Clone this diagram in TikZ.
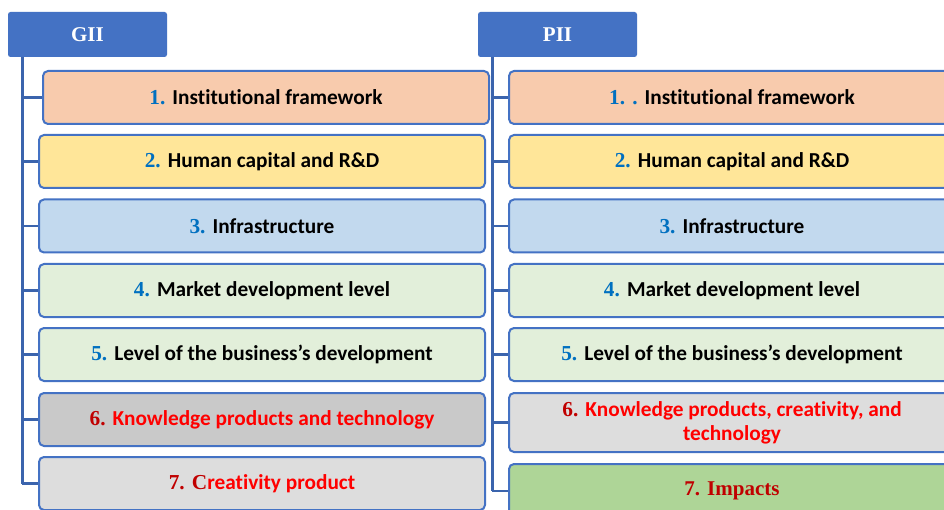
\documentclass[tikz,border=0pt]{standalone}
\usepackage{fontspec}
\setmainfont{Liberation Serif}
\newfontfamily\calfont[Ligatures={NoCommon}]{Carlito}
\usetikzlibrary{backgrounds}

\definecolor{hdrblue}{HTML}{4472C4}
\definecolor{edgeblue}{HTML}{4472C4}
\definecolor{trunkblue}{HTML}{3B64AD}
\definecolor{numblue}{HTML}{0070C0}
\definecolor{darkred}{HTML}{C00000}
\definecolor{brightred}{HTML}{FF0000}
\definecolor{peach}{HTML}{F8CBAD}
\definecolor{butter}{HTML}{FFE699}
\definecolor{skyblue}{HTML}{C2D9EE}
\definecolor{palegreen}{HTML}{E2EFDA}
\definecolor{midgray}{HTML}{C9C9C9}
\definecolor{lightgray}{HTML}{DDDDDD}
\definecolor{leafgreen}{HTML}{AED597}

% serif bold index number and sans bold label
\newcommand\idx[2][numblue]{{\rmfamily\bfseries\color{#1}#2}}
\newcommand\lbl[1]{{\calfont\bfseries #1}}

\tikzset{
  hdr/.style={fill=hdrblue, rounded corners=2.5pt, minimum width=159pt,
    minimum height=45pt, inner sep=0pt, text=white,
    font=\fontsize{21}{24}\selectfont\rmfamily\bfseries},
  item/.style={draw=edgeblue, line width=2pt, rounded corners=5pt,
    minimum width=446pt, minimum height=53pt, inner sep=0pt, align=center,
    font=\fontsize{21.3}{24}\selectfont},
  wire/.style={draw=trunkblue, line width=2.6pt},
}

\begin{document}
\begin{tikzpicture}[x=1pt,y=-1pt]
\useasboundingbox (0,0) rectangle (944,510);
\clip (0,0) rectangle (944,510);

% column headers
\node[hdr] (GII) at (87.5,34.5) {GII};
\node[hdr] (PII) at (557.5,34.5) {PII};

% GII pillars
\node[item, fill=peach]     (L1) at (266,97.5)  {\idx{1.} \lbl{Institutional framework}};
\node[item, fill=butter]    (L2) at (262,161.5) {\idx{2.} \lbl{Human capital and R\&D}};
\node[item, fill=skyblue]   (L3) at (262,226)   {\idx{3.} \lbl{Infrastructure}};
\node[item, fill=palegreen] (L4) at (262,290.5) {\idx{4.} \lbl{Market development level}};
\node[item, fill=palegreen] (L5) at (262,354.5) {\idx{5.} \lbl{Level of the business’s development}};
\node[item, fill=midgray]   (L6) at (262,419.5) {\idx[darkred]{6.} {\color{brightred}\lbl{Knowledge products and technology}}};
\node[item, fill=lightgray] (L7) at (262,483.5) {\idx[darkred]{7. C}{\color{brightred}\lbl{reativity product}}};

% PII pillars
\node[item, fill=peach]     (R1) at (732,97.5)  {\idx{1. .} \lbl{Institutional framework}};
\node[item, fill=butter]    (R2) at (732,161.5) {\idx{2.} \lbl{Human capital and R\&D}};
\node[item, fill=skyblue]   (R3) at (732,226)   {\idx{3.} \lbl{Infrastructure}};
\node[item, fill=palegreen] (R4) at (732,290.5) {\idx{4.} \lbl{Market development level}};
\node[item, fill=palegreen] (R5) at (732,354.5) {\idx{5.} \lbl{Level of the business’s development}};
\node[item, fill=lightgray, minimum height=59pt] (R6) at (732,422.5)
  {\idx[darkred]{6.} {\color{brightred}\lbl{Knowledge products, creativity, and}}\\
   {\color{brightred}\lbl{technology}}};
\node[item, fill=leafgreen, minimum height=54pt] (R7) at (732,491)
  {\fontsize{21}{24}\selectfont\idx[darkred]{7. Impacts}};

% tree connectors
\coordinate (tl) at ([xshift=14.5pt]GII.south west);
\coordinate (tr) at ([xshift=14.5pt]PII.south west);
\begin{scope}[on background layer]
  \fill[white] (0,0) rectangle (944,510);
  \draw[wire] (tl) -- (tl |- L7.west);
  \draw[wire] (tr) -- (tr |- R7.west);
  \foreach \i in {1,...,7} {
    \draw[wire] (tl |- L\i.west) -- (L\i.west);
    \draw[wire] (tr |- R\i.west) -- (R\i.west);
  }
\end{scope}
\end{tikzpicture}
\end{document}
